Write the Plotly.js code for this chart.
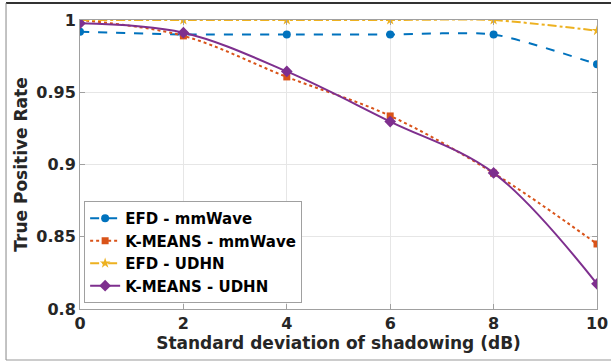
<!DOCTYPE html>
<html>
<head>
<meta charset="utf-8">
<script src="https://cdn.plot.ly/plotly-3.0.1.min.js"></script>
<style>
html,body{margin:0;padding:0;background:#fff;}
#chart{width:611px;height:362px;}
</style>
</head>
<body>
<div id="chart"></div>
<script>
const xVals = [0, 2, 4, 6, 8, 10];
const efdMmWave = [0.9919, 0.9900, 0.9900, 0.9900, 0.9900, 0.9694];
const kmeansMmWave = [1.0000, 0.9890, 0.9606, 0.9336, 0.8940, 0.8450];
const efdUdhn = [1.0000, 1.0000, 1.0000, 1.0000, 1.0000, 0.9926];
const kmeansUdhn = [0.9977, 0.9912, 0.9644, 0.9297, 0.8942, 0.8174];
const seriesNames = ['EFD - mmWave', 'K-MEANS - mmWave', 'EFD - UDHN', 'K-MEANS - UDHN'];
const xTicks = [0, 2, 4, 6, 8, 10];
const yTickVals = [0.8, 0.85, 0.9, 0.95, 1];
const yTickText = ['0.8', '0.85', '0.9', '0.95', '1'];

const font = {family: 'DejaVu Sans', color: '#262626'};

const traces = [
  {x: xVals, y: efdMmWave, name: seriesNames[0], mode: 'lines+markers',
   line: {color: '#0072BD', width: 2, dash: 'dash', shape: 'spline', smoothing: 0.6},
   marker: {symbol: 'circle', size: 8, color: '#0072BD'}},
  {x: xVals, y: kmeansMmWave, name: seriesNames[1], mode: 'lines+markers',
   line: {color: '#D95319', width: 2, dash: 'dot', shape: 'spline', smoothing: 1},
   marker: {symbol: 'square', size: 7, color: '#D95319'}},
  {x: xVals, y: efdUdhn, name: seriesNames[2], mode: 'lines+markers',
   line: {color: '#EDB120', width: 2, dash: 'dashdot', shape: 'spline', smoothing: 0.6},
   marker: {symbol: 'star', size: 8, color: '#EDB120'}},
  {x: xVals, y: kmeansUdhn, name: seriesNames[3], mode: 'lines+markers',
   line: {color: '#7E2F8E', width: 2, shape: 'spline', smoothing: 1},
   marker: {symbol: 'diamond', size: 9, color: '#7E2F8E'}}
];

const layout = {
  width: 611, height: 362,
  margin: {l: 80, r: 14, t: 20, b: 53},
  paper_bgcolor: '#ffffff', plot_bgcolor: '#ffffff',
  showlegend: true,
  legend: {
    x: 0.008, y: 0.021, xanchor: 'left', yanchor: 'bottom',
    bgcolor: '#ffffff', bordercolor: '#a0a0a0', borderwidth: 1,
    font: {family: 'DejaVu Sans', size: 15, color: '#000', weight: 'bold'},
    tracegroupgap: 0, itemwidth: 30
  },
  xaxis: {
    range: [0, 10], tickvals: xTicks, ticktext: xTicks.map(String),
    showgrid: true, gridcolor: '#e6e6e6', zeroline: false,
    showline: true, linecolor: '#a0a0a0', linewidth: 1, mirror: 'ticks',
    ticks: 'inside', ticklen: 5, tickcolor: '#a0a0a0',
    tickfont: Object.assign({size: 16, weight: 'bold'}, font),
    title: {text: 'Standard deviation of shadowing (dB)', standoff: 4,
      font: Object.assign({size: 17, weight: 'bold'}, font)}
  },
  yaxis: {
    range: [0.8, 1], tickvals: yTickVals, ticktext: yTickText,
    showgrid: true, gridcolor: '#e6e6e6', zeroline: false,
    showline: true, linecolor: '#a0a0a0', linewidth: 1, mirror: 'ticks',
    ticks: 'inside', ticklen: 5, tickcolor: '#a0a0a0',
    tickfont: Object.assign({size: 16, weight: 'bold'}, font),
    title: {text: 'True Positive Rate', standoff: 4,
      font: Object.assign({size: 17, weight: 'bold'}, font)}
  },
  shapes: [
    {type: 'line', xref: 'paper', yref: 'paper', x0: -0.1431, x1: 1.03, y0: 1.0588, y1: 1.0588,
     line: {color: '#333333', width: 2}},
    {type: 'line', xref: 'paper', yref: 'paper', x0: -0.1431, x1: -0.1431, y0: 1.0588, y1: -0.1765,
     line: {color: '#888888', width: 1}},
    {type: 'line', xref: 'paper', yref: 'paper', x0: -0.1431, x1: 1.03, y0: -0.1765, y1: -0.1765,
     line: {color: '#999999', width: 1}}
  ]
};

Plotly.newPlot('chart', traces, layout, {displayModeBar: false, staticPlot: true});
</script>
</body>
</html>
